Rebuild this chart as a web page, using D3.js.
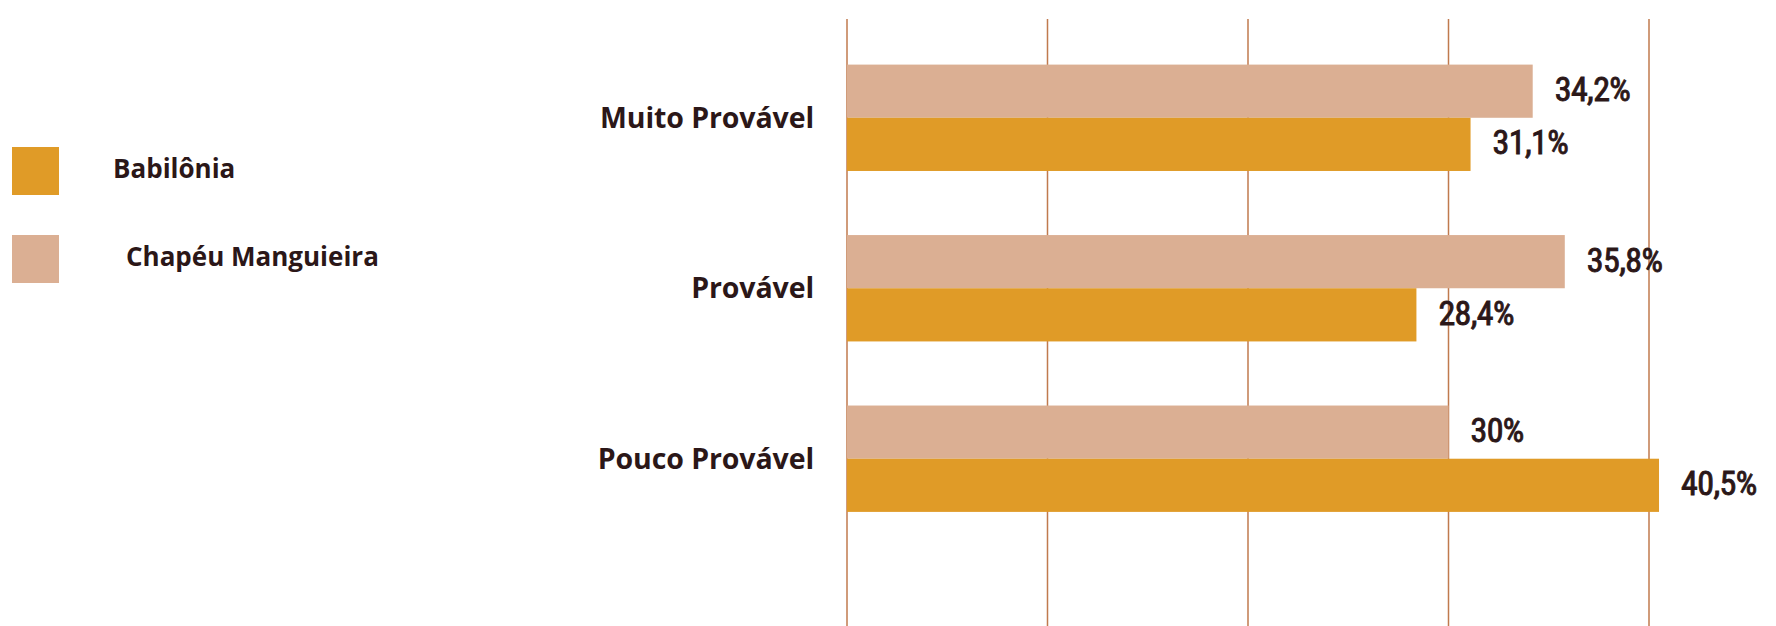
<!DOCTYPE html>
<html>
<head>
<meta charset="utf-8">
<script src="https://cdn.jsdelivr.net/npm/d3@7/dist/d3.min.js"></script>
<style>
  html, body { margin: 0; padding: 0; background: #ffffff; }
  svg { display: block; }
</style>
</head>
<body>
<svg id="chart" width="1776" height="626"></svg>
<script>
const categories = ["Muito Provável", "Provável", "Pouco Provável"];
const seriesNames = ["Chapéu Manguieira", "Babilônia"];
const chapeuValues = [34.2, 35.8, 30];
const babiloniaValues = [31.1, 28.4, 40.5];
const valueLabelsChapeu = ["34,2%", "35,8%", "30%"];
const valueLabelsBabilonia = ["31,1%", "28,4%", "40,5%"];
const gridTicks = [0, 10, 20, 30, 40];
const legendNames = ["Babilônia", "Chapéu Manguieira"];

const colors = { "Babilônia": "#e09b27", "Chapéu Manguieira": "#dbaf93" };
const textColor = "#2b1718";
const gridColor = "#c07a4e";

const svg = d3.select("#chart");

const x = d3.scaleLinear().domain([0, 40]).range([847, 1649]);
const y = d3.scaleBand().domain(categories).range([0.5, 576]).padding(0.376);
const ySub = d3.scaleBand().domain(seriesNames).range([0, y.bandwidth()]);

// gridlines
svg.append("g").selectAll("line").data(gridTicks).join("line")
  .attr("x1", d => x(d)).attr("x2", d => x(d))
  .attr("y1", 19).attr("y2", 626)
  .attr("stroke", gridColor).attr("stroke-width", 1.5);

const rows = categories.map((c, i) => ({
  cat: c,
  values: [
    { s: "Chapéu Manguieira", v: chapeuValues[i], label: valueLabelsChapeu[i] },
    { s: "Babilônia", v: babiloniaValues[i], label: valueLabelsBabilonia[i] }
  ]
}));

const groups = svg.append("g").selectAll("g").data(rows).join("g")
  .attr("transform", d => `translate(0,${y(d.cat)})`);

groups.selectAll("rect").data(d => d.values).join("rect")
  .attr("x", x(0))
  .attr("y", d => ySub(d.s))
  .attr("width", d => x(d.v) - x(0))
  .attr("height", ySub.bandwidth())
  .attr("fill", d => colors[d.s]);

groups.selectAll("text.val").data(d => d.values).join("text")
  .attr("class", "val")
  .attr("x", d => x(d.v) + 22)
  .attr("y", d => ySub(d.s) + ySub.bandwidth() / 2 + 10)
  .attr("font-family", "'Liberation Sans Narrow', 'Roboto Condensed', Roboto, sans-serif")
  .attr("font-weight", "normal")
  .attr("font-size", 34)
  .attr("letter-spacing", -0.6)
  .attr("stroke", textColor)
  .attr("stroke-width", 0.9)
  .attr("fill", textColor)
  .text(d => d.label);

// category labels
svg.append("g").selectAll("text").data(categories).join("text")
  .attr("x", 814)
  .attr("y", d => y(d) + y.bandwidth() / 2 + 10)
  .attr("text-anchor", "end")
  .attr("font-family", "'Open Sans', Lato, sans-serif")
  .attr("font-weight", "bold")
  .attr("font-size", 28.5)
  .attr("letter-spacing", -0.1)
  .attr("fill", textColor)
  .text(d => d);

// legend
const legendY = [147, 235];
const legendTextX = [113, 126];
const leg = svg.append("g").selectAll("g").data(legendNames).join("g")
  .attr("transform", (d, i) => `translate(12,${legendY[i]})`);
leg.append("rect").attr("width", 47).attr("height", 48).attr("fill", d => colors[d]);
leg.append("text")
  .attr("x", (d, i) => legendTextX[i] - 12)
  .attr("y", 31)
  .attr("font-family", "'Open Sans', Lato, sans-serif")
  .attr("font-weight", "bold")
  .attr("font-size", 26)
  .attr("letter-spacing", 0)
  .attr("fill", textColor)
  .text(d => d);
</script>
</body>
</html>
